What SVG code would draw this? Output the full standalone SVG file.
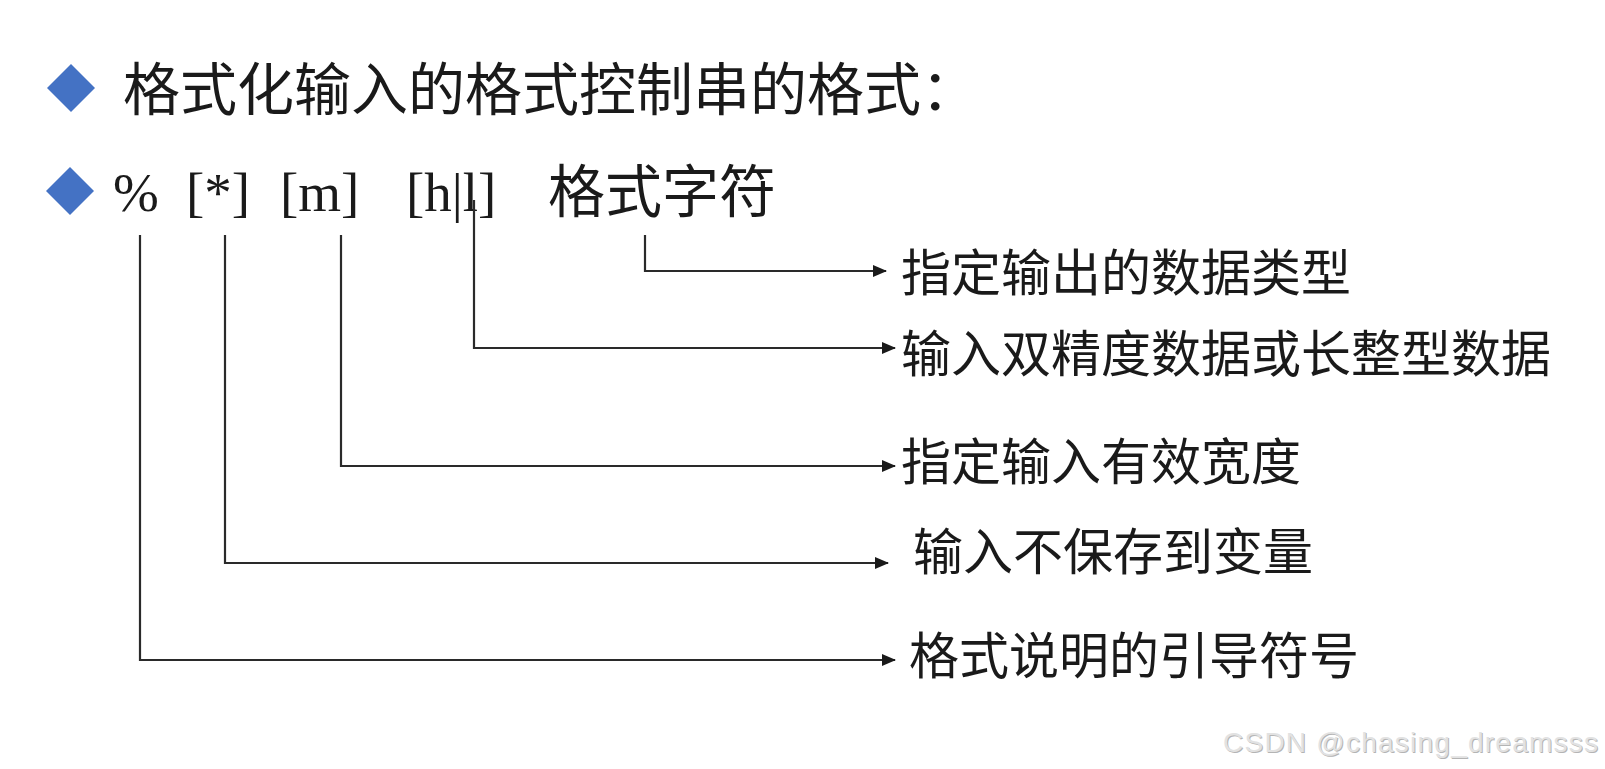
<svg xmlns="http://www.w3.org/2000/svg" width="1605" height="769" viewBox="0 0 1605 769">
<defs>
<style>
.cjk{font-family:"Noto Sans CJK SC","Noto Sans",sans-serif;fill:#1a1a1a;}
.ser{font-family:"Liberation Serif","Times New Roman",serif;fill:#1a1a1a;font-size:55px;}
.lbl{font-size:50px;}
.dia{fill:#4472C4;}
.con{fill:none;stroke:#2a2a2a;stroke-width:2.2;}
</style>
<marker id="arr" markerUnits="userSpaceOnUse" markerWidth="14" markerHeight="12" refX="13" refY="6" orient="auto">
<path d="M0,0 L14,6 L0,12 z" fill="#1a1a1a"/>
</marker>
</defs>
<rect width="1605" height="769" fill="#ffffff"/>
<g id="title">
<polygon class="dia" points="71,64 95,88 71,112 47,88"/>
<text class="cjk" x="123" y="110" font-size="57">格式化输入的格式控制串的格式：</text>
</g>
<g id="format">
<polygon class="dia" points="70,167 94,191 70,215 46,191"/>
<text class="ser" x="113" y="211">%</text>
<text class="ser" x="186" y="211">[*]</text>
<text class="ser" x="280" y="211">[m]</text>
<text class="ser" x="406" y="211">[h|l]</text>
<text class="cjk" x="548" y="212" font-size="57">格式字符</text>
</g>
<g id="connectors">
<path class="con" d="M645,235 V271 H886" marker-end="url(#arr)"/>
<path class="con" d="M474,200 V348 H895" marker-end="url(#arr)"/>
<path class="con" d="M341,235 V466 H895" marker-end="url(#arr)"/>
<path class="con" d="M225,235 V563 H888" marker-end="url(#arr)"/>
<path class="con" d="M140,235 V660 H895" marker-end="url(#arr)"/>
</g>
<g id="label-type"><text class="cjk lbl" x="901" y="291">指定输出的数据类型</text></g>
<g id="label-hl"><text class="cjk lbl" x="901" y="372">输入双精度数据或长整型数据</text></g>
<g id="label-m"><text class="cjk lbl" x="901" y="480">指定输入有效宽度</text></g>
<g id="label-star"><text class="cjk lbl" x="913" y="570">输入不保存到变量</text></g>
<g id="label-pct"><text class="cjk lbl" x="909" y="674">格式说明的引导符号</text></g>
<g id="watermark" font-family="Liberation Sans, Arial, sans-serif" font-size="28">
<text x="1224" y="753" fill="#b4b4b4" textLength="375">CSDN @chasing_dreamsss</text>
<text x="1223" y="752" fill="#e2e2e2" textLength="375">CSDN @chasing_dreamsss</text>
</g>
</svg>
